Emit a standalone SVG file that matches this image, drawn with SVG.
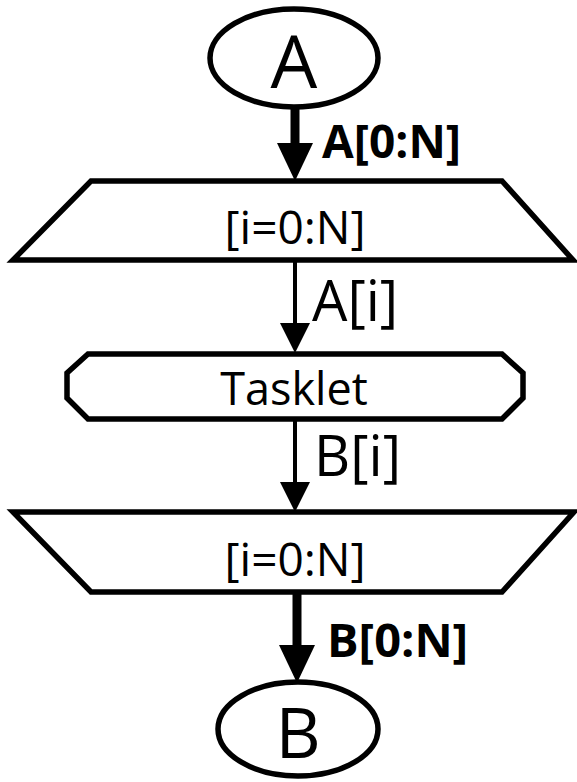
<svg xmlns="http://www.w3.org/2000/svg" width="577" height="782" viewBox="0 0 577 782">
<style>
.shape{fill:#fff;stroke:#000;stroke-width:5.5;stroke-linejoin:miter}
.t{font-family:"Open Sans","Noto Sans",sans-serif;fill:#000}
.thick{stroke:#000;stroke-width:9;fill:none}
.thin{stroke:#000;stroke-width:4;fill:none}
</style>
<defs>
<marker id="hb" markerUnits="userSpaceOnUse" orient="auto" overflow="visible" refX="0" refY="0" markerWidth="40" markerHeight="40"><path d="M0,-18 L38,0 L0,18 Z" fill="#000"/></marker>
<marker id="hs" markerUnits="userSpaceOnUse" orient="auto" overflow="visible" refX="0" refY="0" markerWidth="32" markerHeight="32"><path d="M0,-15 L30,0 L0,15 Z" fill="#000"/></marker>
</defs>
<g id="connectors">
<line class="thick" x1="295" y1="106" x2="295" y2="143" marker-end="url(#hb)"/>
<line class="thin" x1="295" y1="260" x2="295" y2="323" marker-end="url(#hs)"/>
<line class="thin" x1="295" y1="419" x2="295" y2="482" marker-end="url(#hs)"/>
<line class="thick" x1="297" y1="592" x2="297" y2="645" marker-end="url(#hb)"/>
<text class="t" x="322" y="158" font-size="46" font-weight="bold">A[0:N]</text>
<text class="t" x="312" y="321" font-size="56">A[i]</text>
<text class="t" x="314" y="476" font-size="56">B[i]</text>
<text class="t" x="327" y="657" font-size="47" font-weight="bold">B[0:N]</text>
</g>
<g id="nodeA">
<ellipse class="shape" cx="294" cy="58" rx="84" ry="49"/>
<text class="t" x="294" y="88" font-size="74" text-anchor="middle">A</text>
</g>
<g id="map1">
<polygon class="shape" points="91,181 502,181 573,260 13,260"/>
<text class="t" x="295" y="244" font-size="46" text-anchor="middle">[i=0:N]</text>
</g>
<g id="tasklet">
<polygon class="shape" points="88,354 502,354 523,373 523,398 502,419 88,419 67,398 67,373"/>
<text class="t" x="294" y="405" font-size="45" text-anchor="middle">Tasklet</text>
</g>
<g id="map2">
<polygon class="shape" points="13,512 574,512 502,592 91,592"/>
<text class="t" x="295" y="576" font-size="46" text-anchor="middle">[i=0:N]</text>
</g>
<g id="nodeB">
<ellipse class="shape" cx="298" cy="729" rx="80" ry="47"/>
<text class="t" x="298" y="758" font-size="70" text-anchor="middle">B</text>
</g>
</svg>
